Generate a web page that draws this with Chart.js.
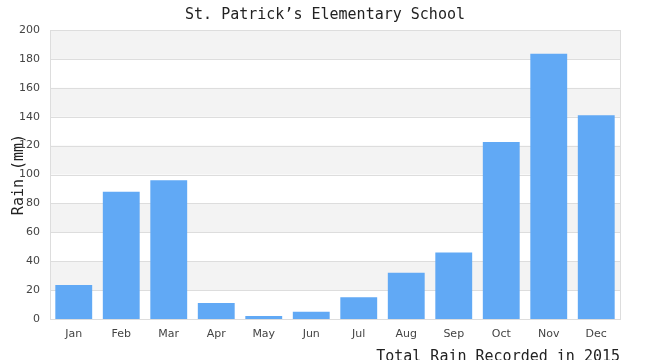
<!DOCTYPE html>
<html>
<head>
<meta charset="utf-8">
<script src="https://cdn.jsdelivr.net/npm/chart.js@4/dist/chart.umd.min.js"></script>
<style>
html,body{margin:0;padding:0;background:#fff;}
#wrap{width:650px;height:360px;position:relative;}
</style>
</head>
<body>
<div id="wrap"><canvas id="c" width="650" height="360"></canvas></div>
<script>
const months = ["Jan","Feb","Mar","Apr","May","Jun","Jul","Aug","Sep","Oct","Nov","Dec"];
const rainMm = [23.5, 88, 96, 11, 2, 5, 15, 32, 46, 122.5, 183.5, 141];
const yTicks = [0, 20, 40, 60, 80, 100, 120, 140, 160, 180, 200];
const chartTitle = "St. Patrick\u2019s Elementary School";
const xTitle = "Total Rain Recorded in 2015";
const yTitle = "Rain (mm)";

const bandPlugin = {
  id: 'bands',
  beforeDatasetsDraw(chart) {
    const {ctx, chartArea: a, scales: {y}} = chart;
    ctx.save();
    for (let i = 1; i < yTicks.length; i += 2) {
      const top = y.getPixelForValue(yTicks[i + 1] !== undefined ? yTicks[i + 1] : yTicks[i]);
      const bot = y.getPixelForValue(yTicks[i]);
      ctx.fillStyle = '#f3f3f3';
      ctx.fillRect(a.left, top, a.right - a.left, bot - top);
    }
    ctx.strokeStyle = '#dddddd';
    ctx.lineWidth = 1;
    for (const v of yTicks) {
      const py = Math.round(y.getPixelForValue(v)) + 0.5;
      ctx.beginPath(); ctx.moveTo(a.left, py); ctx.lineTo(a.right, py); ctx.stroke();
    }
    ctx.strokeRect(Math.round(a.left) + 0.5, Math.round(a.top) + 0.5, Math.round(a.right - a.left), Math.round(a.bottom - a.top));
    ctx.restore();
  }
};

new Chart(document.getElementById('c'), {
  type: 'bar',
  data: {
    labels: months,
    datasets: [{
      data: rainMm,
      backgroundColor: '#61a9f5',
      borderWidth: 0,
      barPercentage: 0.97,
      categoryPercentage: 0.8
    }]
  },
  plugins: [bandPlugin],
  options: {
    responsive: false,
    animation: false,
    layout: {padding: {left: 0, right: 0, top: 0, bottom: 0}},
    plugins: {
      legend: {display: false},
      tooltip: {enabled: false},
      title: {
        display: true,
        text: chartTitle,
        color: '#222',
        font: {family: 'DejaVu Sans Mono', size: 15, weight: 'normal', lineHeight: 1.2},
        padding: {top: 6, bottom: 6}
      }
    },
    scales: {
      x: {
        grid: {display: false, drawTicks: false},
        border: {display: false},
        ticks: {color: '#444', font: {family: 'DejaVu Sans', size: 11}, padding: 9, maxRotation: 0},
        title: {
          display: true, text: xTitle, align: 'end', color: '#222',
          font: {family: 'DejaVu Sans Mono', size: 15, lineHeight: 1.2},
          padding: {top: 0, bottom: -6}
        },
        afterFit(s) { s.height = 41; }
      },
      y: {
        min: 0, max: 200,
        afterBuildTicks(s) { s.ticks = yTicks.map(v => ({value: v})); },
        grid: {display: false, drawTicks: false},
        border: {display: false},
        ticks: {color: '#444', font: {family: 'DejaVu Sans', size: 11}, padding: 10},
        title: {
          display: true, text: yTitle, color: '#222',
          font: {family: 'DejaVu Sans Mono', size: 15, lineHeight: 1.2},
          padding: {top: 10, bottom: 0}
        },
        afterFit(s) { s.width = 50; }
      },
      yRight: {
        type: 'linear',
        position: 'right',
        min: 0, max: 200,
        grid: {display: false, drawTicks: false},
        border: {display: false},
        ticks: {display: false},
        afterFit(s) { s.width = 30; }
      }
    }
  }
});
</script>
</body>
</html>
